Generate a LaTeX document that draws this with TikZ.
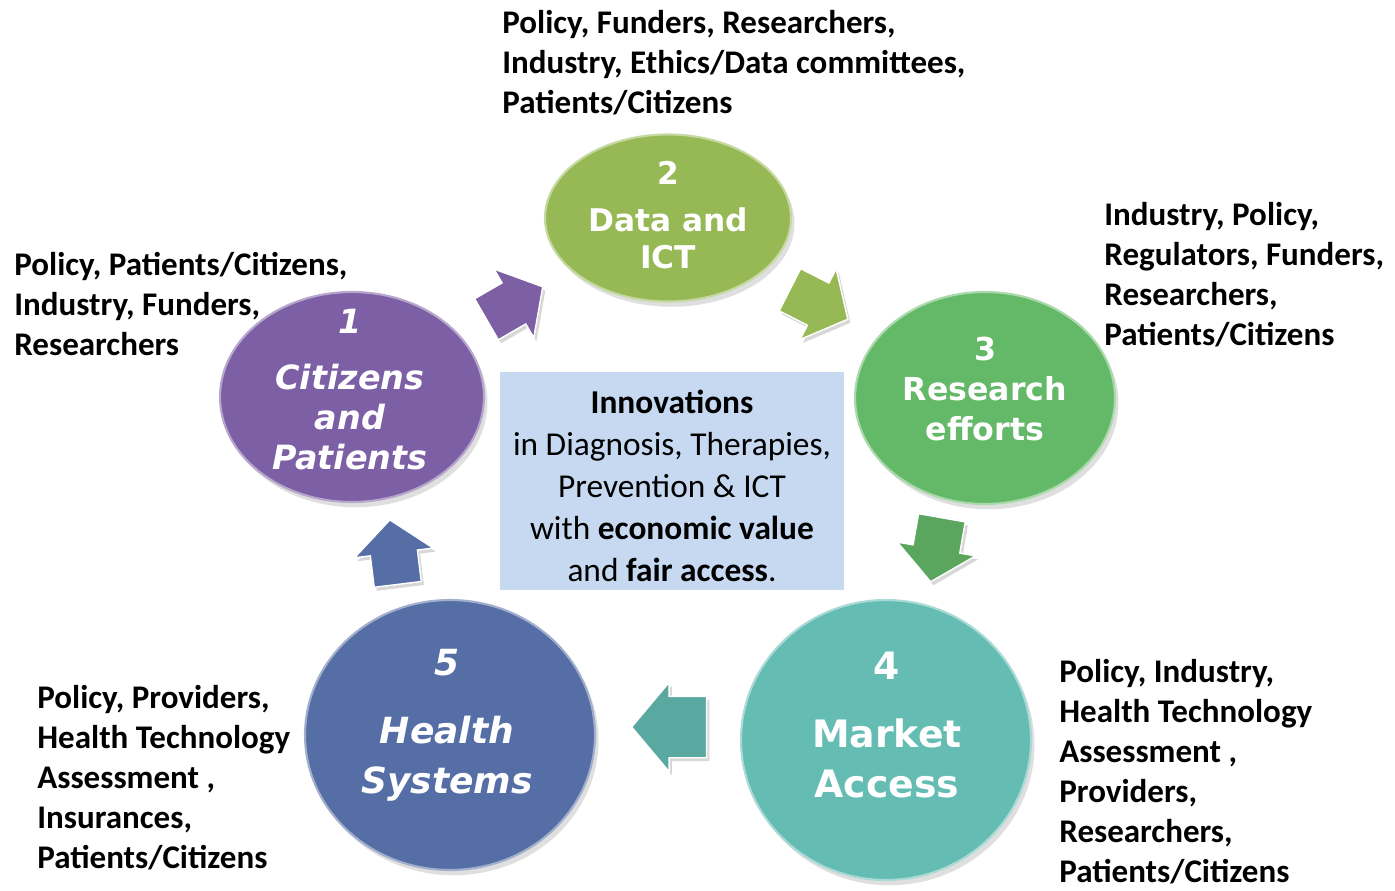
\documentclass[tikz,border=0pt]{standalone}
\usepackage{fontspec}
\setmainfont{Carlito}
\newfontfamily\discfont{DejaVu Sans}
\usetikzlibrary{shapes.geometric,shapes.arrows,shadows}
\definecolor{purp}{HTML}{7D5FA5}
\definecolor{olive}{HTML}{96B955}
\definecolor{leaf}{HTML}{64B969}
\definecolor{teal}{HTML}{64BCB2}
\definecolor{navy}{HTML}{556EA5}
\definecolor{boxblue}{HTML}{C6D9F1}
\tikzset{
  disc/.style={ellipse, inner sep=0pt, draw=#1!55!white, line width=1.2pt, fill=#1,
    drop shadow={shadow xshift=2pt, shadow yshift=-3pt, opacity=0.25}},
  disctext/.style={text=white, align=center, inner sep=0pt, font=\discfont\bfseries},
  blockarrow/.style={single arrow, inner xsep=0pt, inner ysep=0.46cm, text height=0pt, text depth=0pt,
    single arrow head extend=0.32cm, single arrow tip angle=100, minimum height=1.3cm, fill=#1,
    draw=white, line width=0.8pt,
    drop shadow={shadow xshift=1.5pt, shadow yshift=-2pt, opacity=0.3}},
  actors/.style={anchor=north west, align=left, inner sep=0pt,
    font=\fontsize{18.8}{22.8}\selectfont\bfseries}
}
\begin{document}
\begin{tikzpicture}[x=0.02cm,y=-0.02cm]
  \useasboundingbox[fill=white] (0,0) rectangle (1395,891);
  \node[disc=purp, minimum width=5.28cm, minimum height=4.2cm] (c1) at (352,397) {};
  \node[disc=olive, minimum width=4.92cm, minimum height=3.34cm] (c2) at (668,218) {};
  \node[disc=leaf, minimum width=5.2cm, minimum height=4.24cm] (c3) at (985,398) {};
  \node[disc=teal, minimum width=5.8cm, minimum height=5.6cm] (c4) at (886,740) {};
  \node[disc=navy, minimum width=5.8cm, minimum height=5.4cm] (c5) at (450,735) {};

  \node[disctext, font=\discfont\bfseries\itshape\fontsize{19}{22.8}\selectfont] (t1) at (350,390)
    {1\\[9pt]Citizens\\and\\Patients};
  \node[disctext, font=\discfont\bfseries\fontsize{17.8}{21}\selectfont] (t2) at (668,215)
    {2\\[6pt]Data and\\ICT};
  \node[disctext, font=\discfont\bfseries\fontsize{18}{22.8}\selectfont] (t3) at (985,389)
    {3\\Research\\efforts};
  \node[disctext, font=\discfont\bfseries\fontsize{21.5}{28.5}\selectfont] (t4) at (887,725)
    {4\\[10pt]Market\\Access};
  \node[disctext, font=\discfont\bfseries\itshape\fontsize{20.5}{28.5}\selectfont] (t5) at (447,725)
    {5\\[10pt]Health\\Systems};

  \node[fill=boxblue, minimum width=6.9cm, minimum height=4.36cm, align=center,
    font=\fontsize{19}{24}\selectfont] (inno) at (672,481)
    {\rule{0pt}{19pt}\textbf{Innovations}\\in Diagnosis, Therapies,\\Prevention \& ICT\\with \textbf{economic value}\\and \textbf{fair access}.};

  \node[blockarrow=purp, rotate=30] (a12) at (506,308) {};
  \node[blockarrow=olive, rotate=-27] (a23) at (810,300) {};
  \node[blockarrow=leaf!90!black, rotate=-100] (a34) at (938,540) {};
  \node[blockarrow=teal!90!black, rotate=180, minimum height=1.5cm, inner ysep=0.6cm,
    single arrow head extend=0.28cm] (a45) at (682,727) {};
  \node[blockarrow=navy, rotate=97] (a51) at (395,562) {};

  \node[actors] (s2) at (502,10) {Policy, Funders, Researchers,\\Industry, Ethics/Data committees,\\Patients/Citizens};
  \node[actors] (s3) at (1104,202) {Industry, Policy,\\Regulators, Funders,\\Researchers,\\Patients/Citizens};
  \node[actors] (s1) at (14,252) {Policy, Patients/Citizens,\\Industry, Funders,\\Researchers};
  \node[actors] (s5) at (37,685) {Policy, Providers,\\Health Technology\\Assessment ,\\Insurances,\\Patients/Citizens};
  \node[actors] (s4) at (1059,659) {Policy, Industry,\\Health Technology\\Assessment ,\\Providers,\\Researchers,\\Patients/Citizens};
\end{tikzpicture}
\end{document}
